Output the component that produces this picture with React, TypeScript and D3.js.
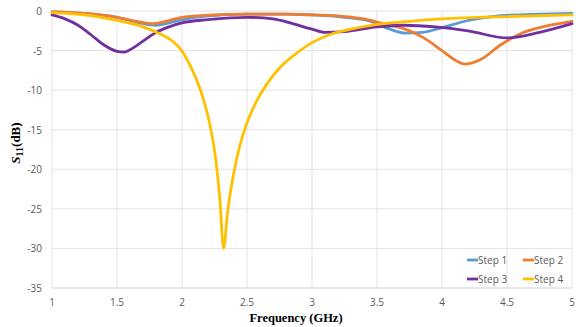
import { useEffect, useRef } from "react";
import * as d3 from "d3";

// S11 curves (frequency GHz, dB)
const step1Freq = [1.0, 1.25, 1.5, 1.65, 1.8, 1.95, 2.1, 2.3, 2.5, 2.8, 3.0, 3.25, 3.45, 3.6, 3.72, 3.85, 4.0, 4.2, 4.45, 4.75, 5.0];
const step1Db = [-0.1, -0.3, -0.8, -1.4, -1.8, -1.3, -0.8, -0.5, -0.4, -0.4, -0.5, -0.8, -1.3, -2.3, -2.8, -2.7, -2.1, -1.2, -0.6, -0.4, -0.3];

const step2Freq = [1.0, 1.25, 1.5, 1.65, 1.78, 1.9, 2.0, 2.25, 2.5, 2.8, 3.0, 3.25, 3.4, 3.55, 3.7, 3.85, 4.0, 4.1, 4.18, 4.3, 4.45, 4.6, 4.75, 5.0];
const step2Db = [-0.1, -0.3, -0.8, -1.3, -1.6, -1.2, -0.8, -0.5, -0.4, -0.4, -0.5, -0.7, -1.0, -1.6, -2.2, -3.3, -5.0, -6.2, -6.7, -6.1, -4.3, -2.9, -2.1, -1.3];

const step3Freq = [1.0, 1.1, 1.2, 1.3, 1.4, 1.5, 1.55, 1.6, 1.7, 1.8, 1.9, 2.0, 2.2, 2.5, 2.7, 2.85, 3.0, 3.1, 3.25, 3.5, 3.7, 3.95, 4.2, 4.5, 4.75, 5.0];
const step3Db = [-0.5, -1.0, -1.8, -3.0, -4.3, -5.1, -5.2, -4.9, -3.8, -2.7, -2.0, -1.5, -1.1, -0.8, -1.0, -1.6, -2.3, -2.7, -2.6, -2.0, -1.8, -2.0, -2.5, -3.4, -2.7, -1.6];

const step4Freq = [1.0, 1.25, 1.5, 1.7, 1.82, 1.9, 1.96, 2.01, 2.06, 2.11, 2.16, 2.21, 2.26, 2.29, 2.32, 2.35, 2.39, 2.43, 2.47, 2.52, 2.58, 2.65, 2.75, 2.9, 3.0, 3.15, 3.3, 3.5, 3.75, 4.0, 4.5, 5.0];
const step4Db = [-0.2, -0.5, -1.2, -2.0, -2.8, -3.5, -4.3, -5.3, -6.8, -8.6, -10.9, -14.0, -18.8, -23.5, -30, -25.5, -21.2, -18.0, -15.6, -13.3, -11.2, -9.3, -7.2, -5.1, -4.0, -2.9, -2.3, -1.7, -1.3, -1.0, -0.7, -0.5];

const seriesNames = ["Step 1", "Step 2", "Step 3", "Step 4"];
const seriesColors = ["#5b9bd5", "#ed7d31", "#7030a0", "#ffc000"];

const xTicks = [1, 1.5, 2, 2.5, 3, 3.5, 4, 4.5, 5];
const yTicks = [0, -5, -10, -15, -20, -25, -30, -35];

const W = 576;
const H = 327;

export default function App() {
  const ref = useRef<SVGSVGElement | null>(null);

  useEffect(() => {
    if (!ref.current) return;
    const svg = d3.select(ref.current);
    svg.selectAll("*").remove();

    const x = d3.scaleLinear().domain([1, 5]).range([52, 572]);
    const y = d3.scaleLinear().domain([0, -35]).range([11, 288]);

    // grid
    const grid = svg.append("g");
    grid.selectAll(".gx")
      .data(xTicks)
      .enter()
      .append("line")
      .attr("x1", (d) => x(d))
      .attr("x2", (d) => x(d))
      .attr("y1", y(0))
      .attr("y2", y(-35))
      .attr("stroke", "#e3e3e3")
      .attr("stroke-width", 1);
    grid.selectAll(".gy")
      .data(yTicks)
      .enter()
      .append("line")
      .attr("x1", x(1))
      .attr("x2", x(5))
      .attr("y1", (d) => y(d))
      .attr("y2", (d) => y(d))
      .attr("stroke", (d) => (d === -35 ? "#d0d0d0" : "#e3e3e3"))
      .attr("stroke-width", 1);

    // tick labels
    svg.append("g")
      .selectAll("text")
      .data(yTicks)
      .enter()
      .append("text")
      .attr("x", 42)
      .attr("y", (d) => y(d) + 4)
      .attr("text-anchor", "end")
      .style("font-family", "'Open Sans', sans-serif")
      .style("font-size", "10px")
      .style("fill", "#595959")
      .text((d) => d3.format("d")(d).replace("−", "-"));

    svg.append("g")
      .selectAll("text")
      .data(xTicks)
      .enter()
      .append("text")
      .attr("x", (d) => x(d))
      .attr("y", 306)
      .attr("text-anchor", "middle")
      .style("font-family", "'Open Sans', sans-serif")
      .style("font-size", "10px")
      .style("fill", "#595959")
      .text((d) => String(d));

    // axis titles
    svg.append("text")
      .attr("x", 296)
      .attr("y", 322)
      .attr("text-anchor", "middle")
      .style("font-family", "'Liberation Serif', serif")
      .style("font-weight", "bold")
      .style("font-size", "12.5px")
      .style("fill", "#000")
      .text("Frequency (GHz)");

    const yt = svg.append("text")
      .attr("transform", "translate(20,143) rotate(-90)")
      .attr("text-anchor", "middle")
      .style("font-family", "'Liberation Serif', serif")
      .style("font-weight", "bold")
      .style("font-size", "13px")
      .style("fill", "#000");
    yt.append("tspan").style("font-style", "italic").text("S");
    yt.append("tspan").attr("dy", 3).style("font-size", "10px").text("11");
    yt.append("tspan").attr("dy", -3).text("(dB)");

    // curves
    const freqs = [step1Freq, step2Freq, step3Freq, step4Freq];
    const dbs = [step1Db, step2Db, step3Db, step4Db];
    const line = d3.line<[number, number]>()
      .x((d) => x(d[0]))
      .y((d) => y(d[1]))
      .curve(d3.curveMonotoneX);

    freqs.forEach((f, i) => {
      const pts = f.map((v, j) => [v, dbs[i][j]] as [number, number]);
      svg.append("path")
        .datum(pts)
        .attr("d", line)
        .attr("fill", "none")
        .attr("stroke", seriesColors[i])
        .attr("stroke-width", 2.8)
        .attr("stroke-linejoin", "round")
        .attr("stroke-linecap", "round");
    });

    // legend
    const lg = svg.append("g");
    seriesNames.forEach((name, i) => {
      const lx = 467 + (i % 2) * 56;
      const ly = 260 + Math.floor(i / 2) * 19;
      lg.append("line")
        .attr("x1", lx)
        .attr("x2", lx + 11)
        .attr("y1", ly)
        .attr("y2", ly)
        .attr("stroke", seriesColors[i])
        .attr("stroke-width", 2.8);
      lg.append("text")
        .attr("x", lx + 11)
        .attr("y", ly + 3.5)
        .style("font-family", "'Open Sans', sans-serif")
        .style("font-size", "10px")
        .style("fill", "#595959")
        .text(name);
    });
  }, []);

  return (
    <svg
      ref={ref}
      width={W}
      height={H}
      style={{ position: "absolute", left: 0, top: 0, background: "#fff" }}
    />
  );
}
